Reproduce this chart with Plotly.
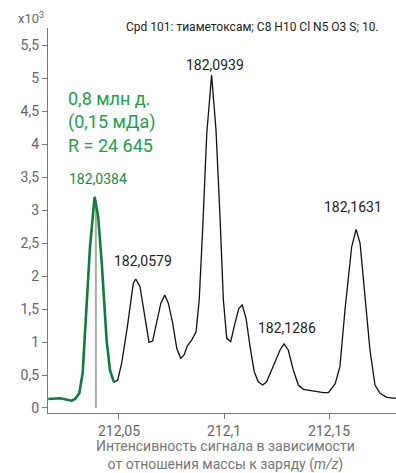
import plotly.graph_objects as go

# m/z values and intensities (x10^3)
mz = [212.0163, 212.0219, 212.0275, 212.0291, 212.0311, 212.0327, 212.0362, 212.0384,
      212.0401, 212.0418, 212.0441, 212.0457, 212.0476,
      212.0494, 212.0513, 212.0540, 212.0568, 212.0580, 212.0600, 212.0624, 212.0643,
      212.0660, 212.0680, 212.0699, 212.0718, 212.0735, 212.0756, 212.0775, 212.0794,
      212.0810, 212.0825, 212.0846, 212.0867, 212.0882, 212.0899, 212.0918, 212.0941,
      212.0962, 212.0981, 212.0997, 212.1013, 212.1032, 212.1052, 212.1071, 212.1087,
      212.1105, 212.1124, 212.1144, 212.1163, 212.1184, 212.1203, 212.1227, 212.1251,
      212.1267, 212.1286, 212.1306, 212.1330, 212.1354, 212.1378, 212.1425, 212.1473,
      212.1497, 212.1529, 212.1552, 212.1576, 212.1608, 212.1629, 212.1648, 212.1671,
      212.1695, 212.1719, 212.1743, 212.1775, 212.1819]
intensity = [0.136, 0.147, 0.111, 0.136, 0.223, 0.526, 2.444, 3.202,
             2.898, 2.197, 1.030, 0.576, 0.389,
             0.424, 0.682, 1.232, 1.889, 1.955, 1.838, 1.383, 0.995,
             1.015, 1.288, 1.586, 1.712, 1.586, 1.283, 0.905, 0.753,
             0.803, 0.939, 1.030, 1.156, 1.636, 2.747, 4.162, 5.045,
             4.212, 2.898, 1.636, 1.056, 1.005, 1.283, 1.511, 1.561,
             1.359, 0.929, 0.550, 0.398, 0.348, 0.398, 0.576, 0.753,
             0.879, 0.970, 0.879, 0.576, 0.348, 0.283, 0.253, 0.232,
             0.232, 0.364, 0.626, 1.485, 2.444, 2.708, 2.495, 1.738,
             0.879, 0.348, 0.223, 0.162, 0.147]
green_end = 13  # points belonging to the highlighted peak

peak_labels = ["182,0384", "182,0579", "182,0939", "182,1286", "182,1631"]
label_x = [212.0401, 212.0612, 212.0957, 212.1302, 212.1616]
label_y = [3.465, 2.227, 5.197, 1.208, 3.041]

marker_mz = 212.0390
marker_top = 3.15

y_ticks = [0, 0.5, 1, 1.5, 2, 2.5, 3, 3.5, 4, 4.5, 5, 5.5]
y_ticktext = ["0", "0,5", "1", "1,5", "2", "2,5", "3", "3,5", "4", "4,5", "5", "5,5"]
x_ticks = [212.05, 212.1, 212.15]
x_ticktext = ["212,05", "212,1", "212,15"]

title_text = "Cpd 101: тиаметоксам; C8 H10 Cl N5 O3 S; 10."
green_text = "0,8 млн д.<br>(0,15 мДа)<br>R = 24 645"
axis_title = "Интенсивность сигнала в зависимости<br>от отношения массы к заряду (<i>m/z</i>)"

FONT = "Roboto"
W, H = 396, 473
ML, MR, MT, MB = 48, 0, 28, 60

fig = go.Figure()

fig.add_trace(go.Scatter(x=[marker_mz, marker_mz], y=[0, marker_top], mode="lines",
                         line=dict(color="#aaaaaa", width=2), hoverinfo="skip"))
fig.add_trace(go.Scatter(x=mz[green_end - 1:], y=intensity[green_end - 1:], mode="lines",
                         line=dict(color="#111111", width=1.3)))
fig.add_trace(go.Scatter(x=mz[:green_end], y=intensity[:green_end], mode="lines",
                         line=dict(color="#0f7d3c", width=2.6)))

for i, (t, x, y) in enumerate(zip(peak_labels, label_x, label_y)):
    fig.add_annotation(x=x, y=y, text=t, showarrow=False, xref="x", yref="y",
                       font=dict(family=FONT, size=14, color="#1a8a45" if i == 0 else "#222222"))

plot_w = W - ML - MR
plot_h = H - MT - MB


def px_to_paper(px, py):
    return (px - ML) / plot_w, (H - MB - py) / plot_h


gx, gy = px_to_paper(66, 122)
fig.add_annotation(x=gx, y=gy, xref="paper", yref="paper", text=green_text,
                   showarrow=False, align="left", xanchor="left", yanchor="middle",
                   font=dict(family=FONT, size=18, color="#22a04c"))

tx, ty = px_to_paper(381, 27)
fig.add_annotation(x=tx, y=ty, xref="paper", yref="paper", text=title_text,
                   showarrow=False, xanchor="right", yanchor="middle",
                   font=dict(family=FONT, size=12, color="#222222"))

ex, ey = px_to_paper(16, 18)
fig.add_annotation(x=ex, y=ey, xref="paper", yref="paper", text="x10<sup>3</sup>",
                   showarrow=False, xanchor="left", yanchor="middle",
                   font=dict(family=FONT, size=13, color="#666666"))

ax, ay = px_to_paper(225, 455)
fig.add_annotation(x=ax, y=ay, xref="paper", yref="paper", text=axis_title,
                   showarrow=False, xanchor="center", yanchor="middle",
                   font=dict(family=FONT, size=14, color="#777777"))

fig.update_layout(
    width=W, height=H,
    margin=dict(l=ML, r=MR, t=MT, b=MB),
    paper_bgcolor="white", plot_bgcolor="white",
    showlegend=False,
    font=dict(family=FONT, color="#666666"),
    xaxis=dict(range=[212.0162, 212.1819], tickvals=x_ticks, ticktext=x_ticktext,
               showgrid=False, zeroline=False, showline=True, linecolor="#777777", linewidth=1.2,
               ticks="outside", ticklen=5, tickcolor="#777777",
               tickfont=dict(family=FONT, size=14, color="#666666")),
    yaxis=dict(range=[-0.076, 5.76], tickvals=y_ticks, ticktext=y_ticktext,
               showgrid=False, zeroline=False, showline=True, linecolor="#777777", linewidth=1.2,
               ticks="outside", ticklen=5, tickcolor="#777777",
               tickfont=dict(family=FONT, size=14, color="#666666")),
)

fig.write_html("out.html")
